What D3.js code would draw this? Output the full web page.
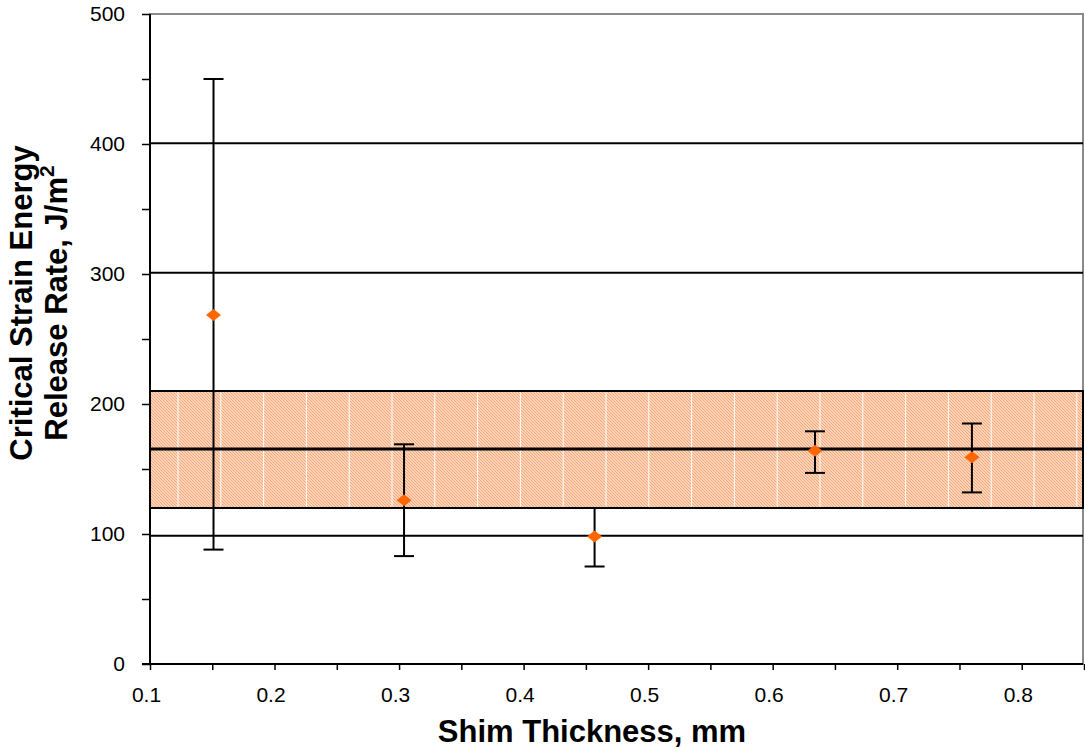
<!DOCTYPE html>
<html>
<head>
<meta charset="utf-8">
<script src="https://cdn.jsdelivr.net/npm/d3@7"></script>
<style>
  body { margin: 0; background: #fff; }
  text { font-family: "Liberation Sans", Arial, sans-serif; }
  .tick text { font-size: 21px; }
</style>
</head>
<body>
<div id="chart"></div>
<script>
// measured points (shim thickness vs critical G)
var thickness = [0.151, 0.304, 0.457, 0.634, 0.760];
var meanG = [268.5, 126, 98, 164, 159];
var lowG = [88, 83, 75, 147, 132];
var highG = [450, 169, 120, 179, 185];

// horizontal reference lines and the shaded band
var refLines = [400.5, 301, 98.6];
var bandLow = [120];
var bandHigh = [210];
var bandMean = [165.4];

var xTicks = [0.1, 0.2, 0.3, 0.4, 0.5, 0.6, 0.7, 0.8];
var yTicks = [0, 100, 200, 300, 400, 500];

var w = 1085, h = 755;
var margin = { top: 14, left: 150, right: 1, bottom: 91 };

var x = d3.scaleLinear().domain([0.1, 0.85]).range([margin.left, w - margin.right]);
var y = d3.scaleLinear().domain([0, 500]).range([h - margin.bottom, margin.top]);

var svg = d3.select('#chart').append('svg')
  .attr('width', w)
  .attr('height', h);

// hatch pattern for the band
var defs = svg.append('defs');
var pat = defs.append('pattern')
  .attr('id', 'hatch')
  .attr('patternUnits', 'userSpaceOnUse')
  .attr('width', 3)
  .attr('height', 3);
pat.append('rect').attr('width', 3).attr('height', 3).attr('fill', '#fde6d6');
pat.append('path')
  .attr('d', 'M-1,-1 L4,4 M-1,2 L1,4 M2,-1 L4,1')
  .attr('stroke', '#f5a573')
  .attr('stroke-width', 1.1);

// plot frame (grey)
svg.append('rect')
  .attr('x', x(0.1))
  .attr('y', y(500))
  .attr('width', x(0.85) - x(0.1) - 1)
  .attr('height', y(0) - y(500))
  .attr('fill', 'none')
  .attr('stroke', '#8a8a8a')
  .attr('stroke-width', 2);

// band
svg.selectAll('rect.band')
  .data(bandLow)
  .enter()
  .append('rect')
  .attr('class', 'band')
  .attr('x', x(0.1))
  .attr('y', function (d, i) { return y(bandHigh[i]); })
  .attr('width', x(0.85) - x(0.1) - 1)
  .attr('height', function (d, i) { return y(d) - y(bandHigh[i]); })
  .attr('fill', 'url(#hatch)')
  .attr('stroke', '#000')
  .attr('stroke-width', 2);

// white seams in the band fill
var seams = d3.range(178, 1080, 42.8);
svg.selectAll('line.seam')
  .data(seams)
  .enter()
  .append('line')
  .attr('x1', function (d) { return d; })
  .attr('x2', function (d) { return d; })
  .attr('y1', y(bandHigh[0]) + 1.5)
  .attr('y2', y(bandLow[0]) - 1.5)
  .attr('stroke', '#fff')
  .attr('stroke-width', 1);

svg.selectAll('line.mean')
  .data(bandMean)
  .enter()
  .append('line')
  .attr('x1', x(0.1))
  .attr('x2', x(0.85) - 1)
  .attr('y1', function (d) { return y(d); })
  .attr('y2', function (d) { return y(d); })
  .attr('stroke', '#000')
  .attr('stroke-width', 3);

svg.selectAll('line.ref')
  .data(refLines)
  .enter()
  .append('line')
  .attr('x1', x(0.1))
  .attr('x2', x(0.85) - 1)
  .attr('y1', function (d) { return y(d); })
  .attr('y2', function (d) { return y(d); })
  .attr('stroke', '#000')
  .attr('stroke-width', 2);

// axes
var yAxis = d3.axisLeft(y)
  .tickValues(d3.range(0, 501, 50))
  .tickSize(8)
  .tickPadding(17)
  .tickFormat(function (d) { return yTicks.indexOf(d) >= 0 ? d : ''; });
var gy = svg.append('g')
  .attr('transform', 'translate(' + x(0.1) + ',0)')
  .call(yAxis);

var xAxis = d3.axisBottom(x)
  .tickValues(d3.range(0.1, 0.851, 0.05).map(function (d) { return Math.round(d * 100) / 100; }))
  .tickSize(6)
  .tickPadding(17)
  .tickFormat(function (d) { return xTicks.indexOf(d) >= 0 ? d : ''; });
var gx = svg.append('g')
  .attr('transform', 'translate(0,' + y(0) + ')')
  .call(xAxis);

[gx, gy].forEach(function (g) {
  g.attr('font-size', 21).style('font-size', '21px');
  g.select('.domain').attr('stroke', '#000').attr('stroke-width', 2);
  g.selectAll('.tick line').attr('stroke', '#000').attr('stroke-width', 1.5);
  g.selectAll('.tick text')
    .style('font-size', '21px')
    .attr('fill', '#000')
    .style('font-family', '"Liberation Sans", Arial, sans-serif');
});
gx.selectAll('.tick text').attr('dx', -4);
gx.select('.domain').attr('d', 'M' + (x(0.1) - 8) + ',0H' + (x(0.85) - 1));
gy.select('.domain').attr('d', 'M0,' + y(500) + 'V' + y(0));

// error bars
var pts = thickness.map(function (t, i) {
  return { x: t, m: meanG[i], lo: lowG[i], hi: highG[i] };
});

var eb = svg.append('g').attr('class', 'errorbars');
eb.selectAll('line.stem')
  .data(pts)
  .enter()
  .append('line')
  .attr('x1', function (d) { return x(d.x); })
  .attr('x2', function (d) { return x(d.x); })
  .attr('y1', function (d) { return y(d.lo); })
  .attr('y2', function (d) { return y(d.hi); })
  .attr('stroke', '#000')
  .attr('stroke-width', 2);
['lo', 'hi'].forEach(function (k) {
  eb.selectAll('line.cap-' + k)
    .data(pts)
    .enter()
    .append('line')
    .attr('x1', function (d) { return x(d.x) - 10; })
    .attr('x2', function (d) { return x(d.x) + 10; })
    .attr('y1', function (d) { return y(d[k]); })
    .attr('y2', function (d) { return y(d[k]); })
    .attr('stroke', '#000')
    .attr('stroke-width', 2);
});

// diamond markers
svg.selectAll('path.pt')
  .data(pts)
  .enter()
  .append('path')
  .attr('class', 'pt')
  .attr('d', function (d) {
    var cx = x(d.x), cy = y(d.m);
    return 'M' + (cx - 7.5) + ',' + cy + 'L' + cx + ',' + (cy - 6) +
      'L' + (cx + 7.5) + ',' + cy + 'L' + cx + ',' + (cy + 6) + 'Z';
  })
  .attr('fill', '#ff6600');

// axis titles
svg.append('text')
  .attr('x', 592)
  .attr('y', 742)
  .attr('text-anchor', 'middle')
  .attr('font-size', 31)
  .attr('font-weight', 'bold')
  .text('Shim Thickness, mm');

var yt = svg.append('text')
  .attr('transform', 'translate(0,303) rotate(-90)')
  .attr('text-anchor', 'middle')
  .attr('font-size', 31)
  .attr('font-weight', 'bold');
yt.append('tspan').attr('x', 0).attr('y', 32).text('Critical Strain Energy');
var t2 = yt.append('tspan').attr('x', 0).attr('y', 67);
t2.append('tspan').text('Release Rate, J/m');
t2.append('tspan').attr('dy', -13).attr('font-size', 21).text('2');
</script>
</body>
</html>
